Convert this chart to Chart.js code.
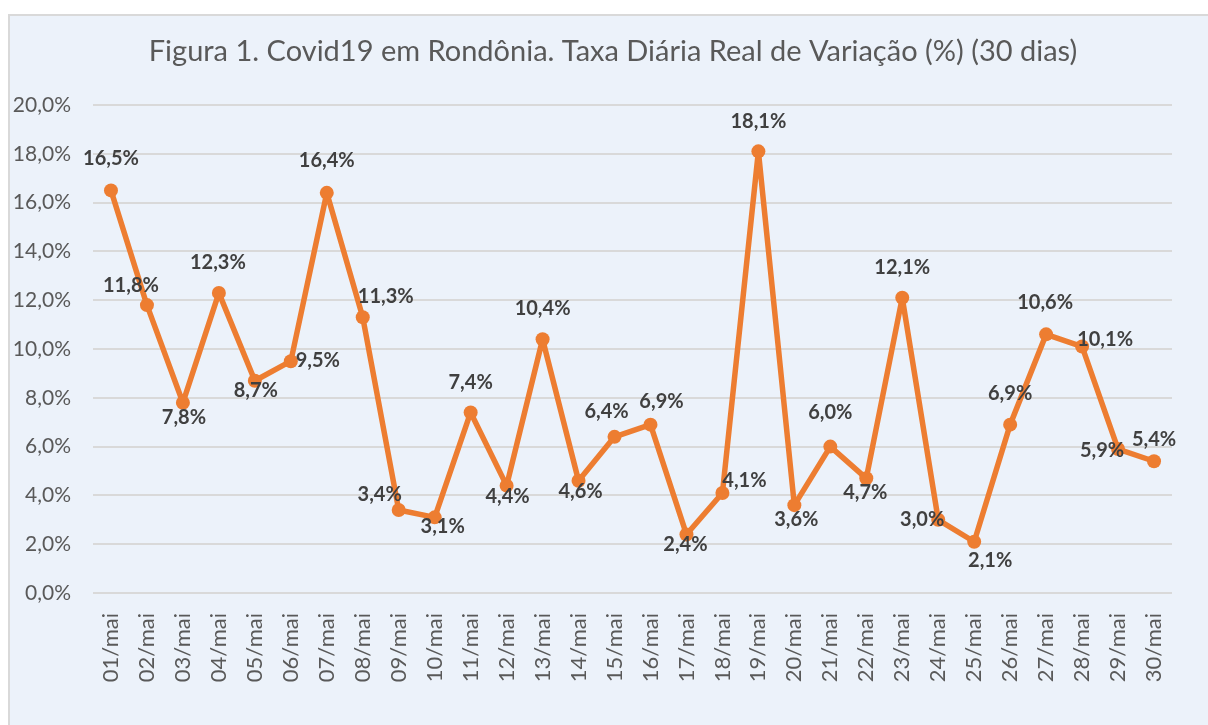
<!DOCTYPE html>
<html>
<head>
<meta charset="utf-8">
<script src="https://cdn.jsdelivr.net/npm/chart.js@4"></script>
<style>
  html, body { margin: 0; padding: 0; background: #fff; }
  #frame {
    position: absolute; left: 8px; top: 14px; width: 1210px; height: 720px;
    background: #ECF2FA; border: 2px solid #D9D9D9; box-sizing: border-box;
  }
  #wrap { position: absolute; left: 0; top: 0; width: 1208px; height: 725px; }
</style>
</head>
<body>
<div id="frame"></div>
<div id="wrap"><canvas id="chart" width="1208" height="725"></canvas></div>
<script>
// ===============================
// DADOS
// ===============================
const days = ['01/mai','02/mai','03/mai','04/mai','05/mai','06/mai','07/mai','08/mai','09/mai','10/mai',
  '11/mai','12/mai','13/mai','14/mai','15/mai','16/mai','17/mai','18/mai','19/mai','20/mai',
  '21/mai','22/mai','23/mai','24/mai','25/mai','26/mai','27/mai','28/mai','29/mai','30/mai'];
const dailyRate = [16.5, 11.8, 7.8, 12.3, 8.7, 9.5, 16.4, 11.3, 3.4, 3.1,
  7.4, 4.4, 10.4, 4.6, 6.4, 6.9, 2.4, 4.1, 18.1, 3.6,
  6.0, 4.7, 12.1, 3.0, 2.1, 6.9, 10.6, 10.1, 5.9, 5.4];
const yTicks = [0, 2, 4, 6, 8, 10, 12, 14, 16, 18, 20];

// label placement (dx, dy) relative to each point
const labelOffsets = [
  [0,-32],[-16,-20],[1,15],[-1,-30],[1,10],[27,-1],[0,-32],[23,-21],[-19,-15],[8,9],
  [0,-30],[1,11],[0,-31],[2,11],[-8,-25],[11,-23],[-1,10],[22,-12],[0,-30],[2,14],
  [0,-34],[-1,14],[0,-30],[-16,0],[16,19],[0,-31],[-1,-32],[23,-7],[-16,2],[0,-22]
];

const FONT = 'Lato, "Open Sans", sans-serif';
const fmt = v => v.toFixed(1).replace('.', ',') + '%';

// ===============================
// PLUGINS
// ===============================
const titlePlugin = {
  id: 'fixedTitle',
  afterDraw(chart) {
    const ctx = chart.ctx;
    ctx.save();
    ctx.font = '29px ' + FONT;
    ctx.fillStyle = '#595959';
    ctx.textAlign = 'center';
    ctx.textBaseline = 'middle';
    ctx.fillText('Figura 1. Covid19 em Rondônia. Taxa Diária Real de Variação (%) (30 dias)', 613, 52);
    ctx.restore();
  }
};

const labelPlugin = {
  id: 'pointLabels',
  afterDatasetsDraw(chart) {
    const ctx = chart.ctx;
    const meta = chart.getDatasetMeta(0);
    ctx.save();
    ctx.font = 'bold 20px ' + FONT;
    ctx.fillStyle = '#404040';
    ctx.textAlign = 'center';
    ctx.textBaseline = 'middle';
    meta.data.forEach((pt, i) => {
      const off = labelOffsets[i];
      ctx.fillText(fmt(dailyRate[i]), pt.x + off[0], pt.y + off[1]);
    });
    ctx.restore();
  }
};

// ===============================
// GRAFICO
// ===============================
new Chart(document.getElementById('chart'), {
  type: 'line',
  data: {
    labels: days,
    datasets: [{
      data: dailyRate,
      borderColor: '#ED7D31',
      backgroundColor: '#ED7D31',
      borderWidth: 5.5,
      borderJoinStyle: 'round',
      borderCapStyle: 'round',
      pointRadius: 7,
      pointBorderWidth: 0,
      tension: 0,
      fill: false
    }]
  },
  options: {
    responsive: false,
    animation: false,
    layout: { padding: { top: 105, right: 36, left: 0, bottom: 0 } },
    plugins: {
      legend: { display: false },
      title: { display: false },
      tooltip: { enabled: false }
    },
    scales: {
      x: {
        offset: true,
        grid: { display: false },
        border: { display: false },
        ticks: {
          minRotation: 90, maxRotation: 90, padding: 12,
          color: '#595959',
          font: { family: FONT, size: 22 }
        },
        afterFit(scale) { scale.height = 132; }
      },
      y: {
        min: 0, max: 20,
        afterBuildTicks(scale) { scale.ticks = yTicks.map(v => ({ value: v })); },
        grid: { color: '#D9D9D9', lineWidth: 2, drawTicks: false },
        border: { display: false },
        ticks: {
          padding: 22,
          color: '#595959',
          font: { family: FONT, size: 21 },
          callback: v => fmt(v)
        },
        afterFit(scale) { scale.width = 93; }
      }
    }
  },
  plugins: [titlePlugin, labelPlugin]
});
</script>
</body>
</html>
